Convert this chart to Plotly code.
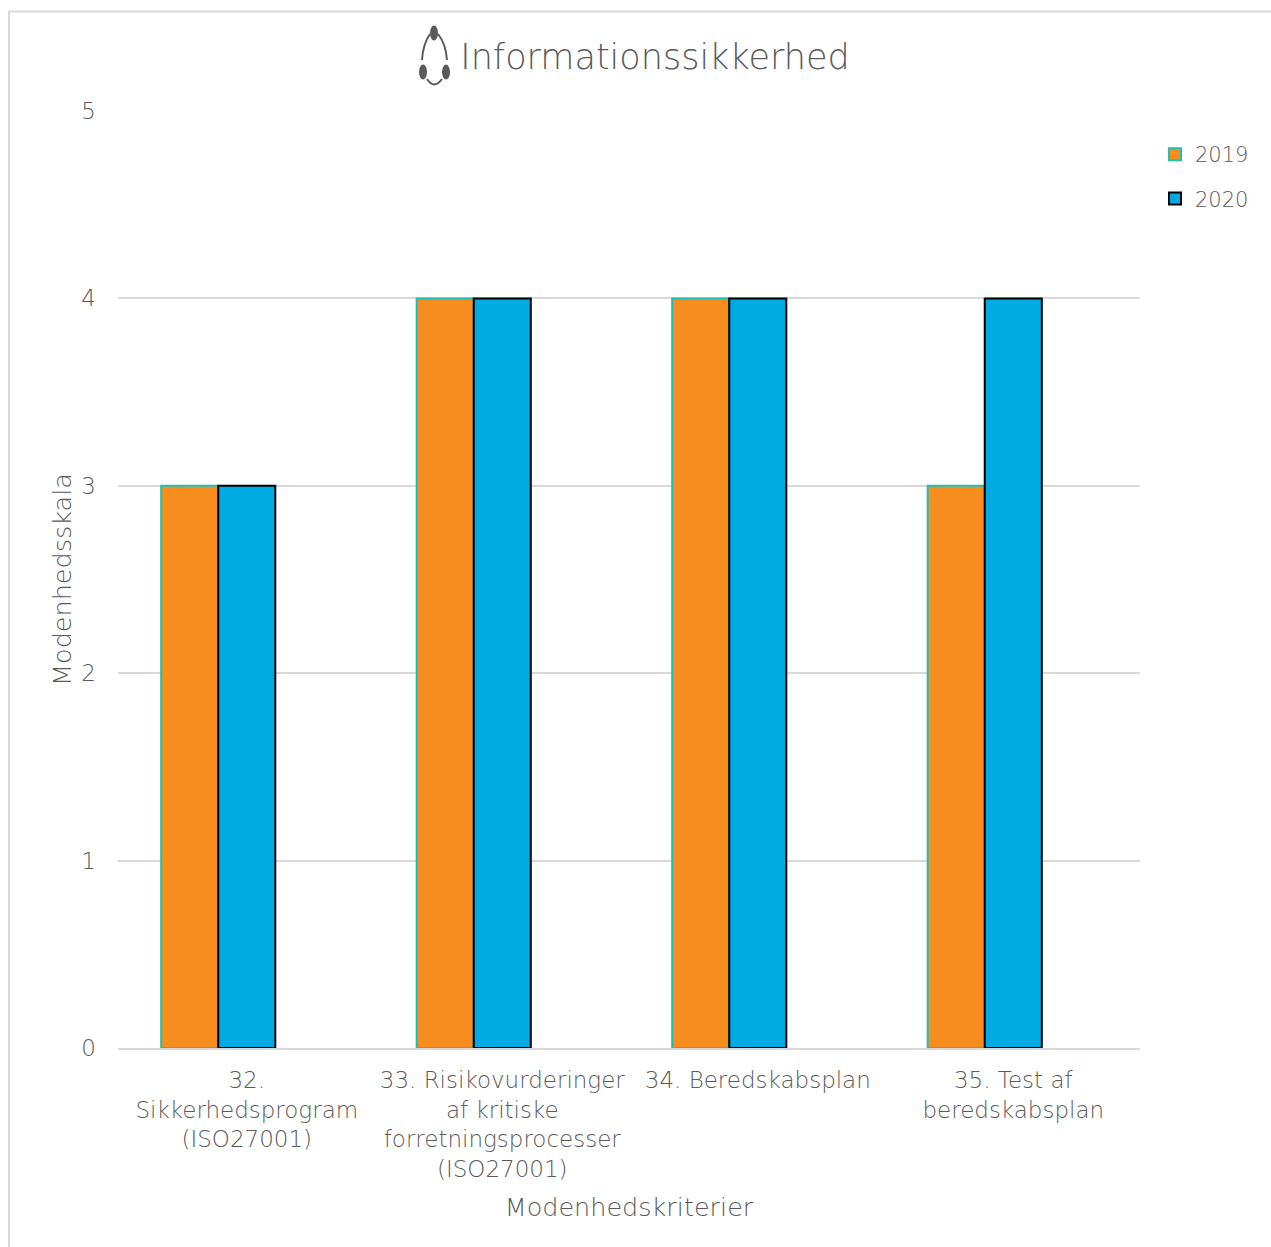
import plotly.graph_objects as go

FONT = "DejaVu Sans"
GREY = "#5A5A5A"
categories = ["32.<br>Sikkerhedsprogram<br>(ISO27001)",
              "33. Risikovurderinger<br>af kritiske<br>forretningsprocesser<br>(ISO27001)",
              "34. Beredskabsplan",
              "35. Test af<br>beredskabsplan"]
v2019 = [3, 4, 4, 3]
v2020 = [3, 4, 4, 4]
empty = [None, None, None, None]
W, H = 1271, 1247
L, R, T, B = 118, 1140, 111, 1048

fig = go.Figure()
fig.add_bar(name="2019", legendgroup="a", x=categories, y=v2019, marker=dict(color="#F78D1E", line=dict(color="#1FBFB8", width=2)))
fig.add_bar(name="2020", legendgroup="b", x=categories, y=v2020, marker=dict(color="#00ABE3", line=dict(color="#000000", width=2)))
fig.add_bar(name="", x=categories, y=empty, showlegend=False, hoverinfo="skip")

def px(x): return (x - L) / (R - L)
def py(y): return (B - y) / (B - T)

shapes = [dict(type="rect", xref="paper", yref="paper", x0=px(9), x1=px(1290), y0=py(11.5), y1=py(1260),
               line=dict(color="#D9D9D9", width=2), layer="below")]
for (cx, cy, rx, ry) in [(434, 33, 4, 7.5), (423, 72, 4, 7.5), (446, 72, 4, 7.5)]:
    shapes.append(dict(type="circle", xref="paper", yref="paper", x0=px(cx-rx), x1=px(cx+rx),
                       y0=py(cy-ry), y1=py(cy+ry), fillcolor=GREY, line=dict(width=0)))
for path in [(430, 34, 423, 44, 422, 60), (438, 34, 446, 44, 447, 60), (427, 79, 434, 90, 442, 79)]:
    a, b, c, d, e, f = path
    shapes.append(dict(type="path", xref="paper", yref="paper",
                       path=f"M{px(a)},{py(b)} Q{px(c)},{py(d)} {px(e)},{py(f)}",
                       line=dict(color=GREY, width=2)))

tick = dict(size=23, family=FONT, color=GREY, weight=200)
axis_title = dict(size=25.5, family=FONT, color=GREY, weight=200)
fig.update_layout(
    width=W, height=H, autosize=False,
    paper_bgcolor="white", plot_bgcolor="white",
    font=dict(family=FONT, color=GREY),
    barmode="group", bargap=0.33, bargroupgap=0,
    margin=dict(l=L, r=W-R, t=T, b=H-B, pad=0),
    title=dict(text="Informationssikkerhed", font=dict(size=35, family=FONT, color=GREY, weight=200),
               x=655/W, xanchor="center", y=1-57/H, yanchor="middle"),
    xaxis=dict(range=[-0.504, 3.496], showgrid=False, showline=True, linecolor="#D9D9D9", linewidth=2, ticks="",
               tickfont=tick, tickangle=0, automargin=False, ticklabelstandoff=10,
               title=dict(text="Modenhedskriterier", font=axis_title, standoff=17)),
    yaxis=dict(range=[0, 5], dtick=1, showgrid=True, gridcolor="#D9D9D9", gridwidth=2, zeroline=False,
               tickfont=tick, ticks="", automargin=False, ticklabelstandoff=21,
               title=dict(text="Modenhedsskala", font=axis_title, standoff=2)),
    legend=dict(x=px(1155), xanchor="left", y=py(134), yanchor="top", font=dict(size=21, family=FONT, color=GREY, weight=200),
                bgcolor="rgba(0,0,0,0)", tracegroupgap=14, itemwidth=30),
    shapes=shapes,
)
fig.write_html("out.html", config=dict(displayModeBar=False),
               post_script="document.body.style.margin='0';document.body.style.overflow='hidden';")
